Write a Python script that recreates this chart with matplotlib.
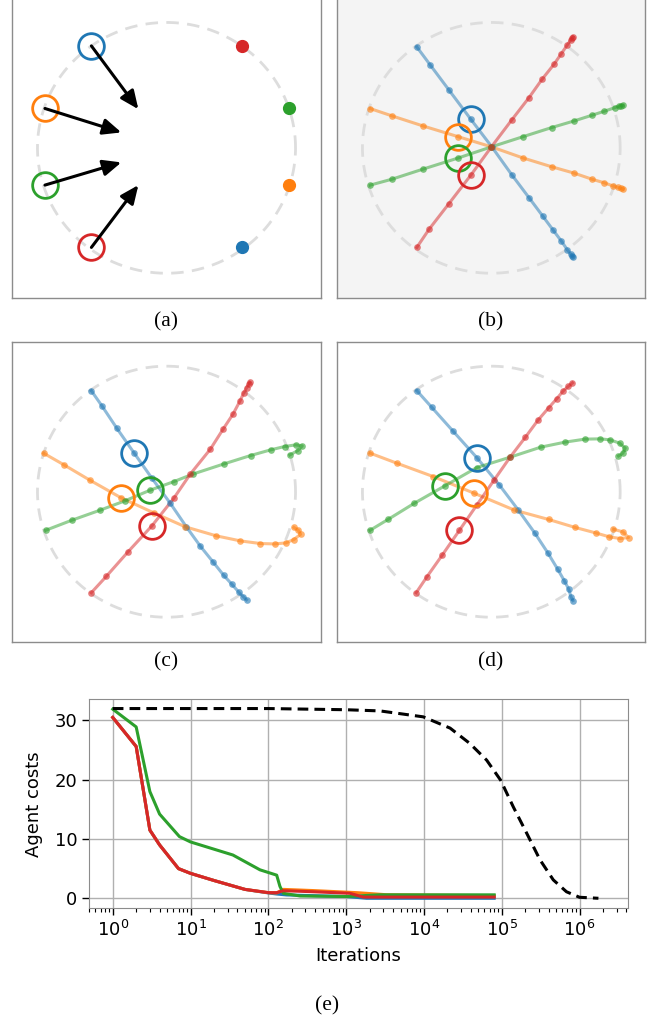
import numpy as np
import matplotlib.pyplot as plt
from matplotlib.ticker import NullFormatter, LogLocator

colors = ['#1f77b4', '#ff7f0e', '#2ca02c', '#d62728']

# (a) start positions, goals and arrow tips (blue, orange, green, red)
a_start_x = [-0.582, -0.942, -0.942, -0.582]
a_start_y = [0.813, 0.314, -0.297, -0.794]
a_goal_x = [0.588, 0.950, 0.950, 0.588]
a_goal_y = [-0.794, -0.297, 0.314, 0.813]
a_tip_x = [-0.218, -0.350, -0.350, -0.218]
a_tip_y = [0.308, 0.123, -0.116, -0.297]

# (b) trajectories
b_x = [
    [-0.578, -0.474, -0.327, -0.159, 0.004, 0.159, 0.293, 0.399, 0.482, 0.544, 0.590, 0.616, 0.626, 0.634],
    [-0.939, -0.771, -0.531, -0.260, 0.001, 0.244, 0.469, 0.644, 0.781, 0.877, 0.942, 0.985, 1.005, 1.024],
    [-0.939, -0.771, -0.531, -0.260, 0.001, 0.249, 0.469, 0.644, 0.781, 0.877, 0.960, 0.990, 1.008, 1.024],
    [-0.578, -0.482, -0.332, -0.159, 0.001, 0.159, 0.293, 0.394, 0.487, 0.544, 0.590, 0.616, 0.626, 0.634],
]
b_y = [
    [0.805, 0.661, 0.459, 0.228, 0.008, -0.215, -0.398, -0.544, -0.659, -0.744, -0.813, -0.847, -0.860, -0.869],
    [0.313, 0.255, 0.175, 0.090, 0.008, -0.080, -0.151, -0.202, -0.250, -0.279, -0.303, -0.316, -0.322, -0.329],
    [-0.297, -0.250, -0.170, -0.082, 0.008, 0.090, 0.162, 0.215, 0.260, 0.292, 0.321, 0.333, 0.337, 0.340],
    [-0.794, -0.648, -0.449, -0.218, 0.008, 0.223, 0.401, 0.547, 0.667, 0.752, 0.821, 0.860, 0.873, 0.884],
]
b_agent_x = [-0.159, -0.260, -0.260, -0.159]
b_agent_y = [0.228, 0.090, -0.082, -0.218]

# (c) trajectories
c_x = [
    [-0.583, -0.498, -0.384, -0.250, -0.113, 0.030, 0.154, 0.263, 0.361, 0.444, 0.508, 0.560, 0.594, 0.620],
    [-0.953, -0.798, -0.596, -0.353, -0.100, 0.146, 0.387, 0.573, 0.728, 0.837, 0.925, 0.987, 1.039, 1.021, 0.987],
    [-0.935, -0.733, -0.514, -0.320, -0.125, 0.056, 0.206, 0.444, 0.651, 0.806, 0.915, 1.000, 1.052, 1.018, 0.956],
    [-0.583, -0.467, -0.299, -0.113, 0.056, 0.185, 0.340, 0.439, 0.516, 0.568, 0.599, 0.620, 0.638, 0.646],
]
c_y = [
    [0.805, 0.680, 0.504, 0.307, 0.107, -0.093, -0.280, -0.435, -0.560, -0.667, -0.739, -0.800, -0.835, -0.861],
    [0.307, 0.216, 0.093, -0.048, -0.168, -0.280, -0.352, -0.392, -0.413, -0.416, -0.408, -0.381, -0.339, -0.307, -0.285],
    [-0.307, -0.227, -0.147, -0.072, 0.013, 0.080, 0.141, 0.221, 0.288, 0.333, 0.360, 0.373, 0.365, 0.328, 0.293],
    [-0.805, -0.675, -0.480, -0.272, -0.053, 0.141, 0.339, 0.499, 0.619, 0.720, 0.787, 0.827, 0.859, 0.872],
]
c_agent_x = [-0.250, -0.353, -0.125, -0.113]
c_agent_y = [0.307, -0.048, 0.013, -0.272]

# (d) trajectories
d_x = [
    [-0.578, -0.462, -0.299, -0.113, 0.063, 0.210, 0.340, 0.439, 0.516, 0.568, 0.602, 0.617, 0.633],
    [-0.940, -0.733, -0.449, -0.131, 0.180, 0.444, 0.651, 0.809, 0.917, 1.000, 1.065, 1.021, 0.948],
    [-0.940, -0.798, -0.599, -0.358, -0.113, 0.146, 0.384, 0.573, 0.728, 0.845, 0.922, 0.995, 1.039, 1.021, 0.987],
    [-0.583, -0.501, -0.382, -0.247, -0.113, 0.022, 0.146, 0.263, 0.361, 0.444, 0.508, 0.560, 0.599, 0.630],
]
d_y = [
    [0.805, 0.672, 0.485, 0.272, 0.053, -0.147, -0.333, -0.488, -0.619, -0.712, -0.779, -0.835, -0.867],
    [0.307, 0.227, 0.120, -0.013, -0.147, -0.221, -0.285, -0.328, -0.360, -0.373, -0.365, -0.320, -0.299],
    [-0.307, -0.219, -0.093, 0.048, 0.192, 0.275, 0.355, 0.395, 0.419, 0.421, 0.413, 0.387, 0.347, 0.307, 0.285],
    [-0.805, -0.680, -0.507, -0.307, -0.107, 0.093, 0.275, 0.432, 0.568, 0.667, 0.741, 0.805, 0.840, 0.867],
]
d_agent_x = [-0.113, -0.131, -0.358, -0.247]
d_agent_y = [0.272, -0.013, 0.048, -0.307]

# (e) agent costs over iterations
iters_blue = [1, 2, 3, 4, 7, 10, 20, 50, 100, 128, 172, 1000, 1830, 80000]
cost_blue = [30.5, 25.6, 11.5, 9.0, 5.0, 4.2, 3.0, 1.5, 0.9, 0.72, 0.56, 0.3, 0.0, 0.0]
iters_orange = [1, 2, 3, 4, 7, 10, 20, 50, 100, 128, 156, 380, 1370, 3300, 80000]
cost_orange = [30.5, 25.6, 11.5, 9.0, 5.0, 4.2, 3.0, 1.5, 0.95, 0.9, 1.5, 1.3, 0.95, 0.6, 0.45]
iters_green = [1, 2, 3, 4, 7.2, 10, 35, 78, 128, 141, 156, 255, 1000, 2700, 80000]
cost_green = [31.9, 28.9, 18.0, 14.2, 10.4, 9.5, 7.3, 4.8, 3.9, 2.0, 0.84, 0.39, 0.3, 0.58, 0.58]
iters_red = [1, 2, 3, 4, 7, 10, 20, 50, 100, 128, 156, 380, 1120, 1660, 80000]
cost_red = [30.5, 25.6, 11.5, 9.0, 5.0, 4.2, 3.0, 1.5, 0.95, 0.95, 1.28, 1.1, 0.84, 0.2, 0.2]
iters_ref = [1, 10, 100, 1000, 2730, 9800, 21700, 39000, 64000, 97000, 141000, 209000,
             310000, 460000, 680000, 1000000, 1750000]
cost_ref = [32.0, 32.0, 32.0, 31.8, 31.6, 30.6, 28.7, 26.1, 23.3, 19.9, 15.4, 11.0,
            6.5, 3.1, 1.1, 0.17, 0.0]
decade_ticks = [1, 10, 100, 1000, 10000, 100000, 1000000]

plt.rcParams['font.size'] = 13

W, H = 657, 1021
fig = plt.figure(figsize=(W / 100, H / 100), dpi=100)


def px_axes(left, top, right, bottom):
    return fig.add_axes([left / W, 1 - bottom / H, (right - left) / W, (bottom - top) / H])


def setup_panel(ax, face='white'):
    ax.set_facecolor(face)
    ax.set_xlim(-1.195, 1.195)
    ax.set_ylim(-1.195, 1.195)
    ax.set_xticks([])
    ax.set_yticks([])
    for s in ax.spines.values():
        s.set_color('#8c8c8c')
        s.set_linewidth(1.0)
    th = np.linspace(0, 2 * np.pi, 300)
    ax.plot(np.cos(th), np.sin(th), color='#dddddd', lw=2.0, ls=(0, (4.5, 3)), zorder=1)


def draw_traj(ax, xs, ys, ax_x, ax_y):
    for i in range(4):
        ax.plot(xs[i], ys[i], color=colors[i], lw=2.2, alpha=0.5, zorder=2)
        ax.plot(xs[i], ys[i], 'o', color=colors[i], ms=4.8, alpha=0.6, mec='none', zorder=3)
    for i in range(4):
        ax.plot(ax_x[i], ax_y[i], 'o', ms=18.5, mfc='none', mec=colors[i], mew=2.0, zorder=4)


# (a)
ax_a = px_axes(12.3, -2, 320.7, 297.7)
setup_panel(ax_a)
for i in range(4):
    ax_a.plot(a_goal_x[i], a_goal_y[i], 'o', color=colors[i], ms=8.5, zorder=3)
    ax_a.plot(a_start_x[i], a_start_y[i], 'o', ms=18.5, mfc='none', mec=colors[i], mew=2.0, zorder=4)
    ax_a.annotate('', xy=(a_tip_x[i], a_tip_y[i]), xytext=(a_start_x[i], a_start_y[i]),
                  arrowprops=dict(arrowstyle='-|>,head_length=0.5,head_width=0.22',
                                  color='black', lw=2.2, mutation_scale=22,
                                  shrinkA=0, shrinkB=0), zorder=5)

# (b)
ax_b = px_axes(337.3, -2, 645.3, 297.7)
setup_panel(ax_b, '#f4f4f4')
draw_traj(ax_b, b_x, b_y, b_agent_x, b_agent_y)

# (c)
ax_c = px_axes(12.3, 341.7, 320.7, 641.7)
setup_panel(ax_c)
draw_traj(ax_c, c_x, c_y, c_agent_x, c_agent_y)

# (d)
ax_d = px_axes(337.3, 341.7, 645.3, 641.7)
setup_panel(ax_d)
draw_traj(ax_d, d_x, d_y, d_agent_x, d_agent_y)

# (e)
ax_e = px_axes(89, 699.3, 628, 908.3)
ax_e.plot(iters_blue, cost_blue, color=colors[0], lw=2.2)
ax_e.plot(iters_orange, cost_orange, color=colors[1], lw=2.2)
ax_e.plot(iters_green, cost_green, color=colors[2], lw=2.2)
ax_e.plot(iters_red, cost_red, color=colors[3], lw=2.2)
ax_e.plot(iters_ref, cost_ref, color='black', lw=2.2, ls=(0, (3.5, 2)))
ax_e.set_xscale('log')
ax_e.set_xlim(0.495, 4.2e6)
ax_e.set_ylim(-1.69, 33.56)
ax_e.set_xticks(decade_ticks)
ax_e.xaxis.set_minor_locator(LogLocator(base=10, subs=np.arange(2, 10), numticks=20))
ax_e.xaxis.set_minor_formatter(NullFormatter())
ax_e.set_yticks([0, 10, 20, 30])
ax_e.grid(True, color='#b0b0b0', lw=1.0)
ax_e.set_xlabel('Iterations', labelpad=5)
ax_e.set_ylabel('Agent costs', labelpad=8)
ax_e.tick_params(length=5, width=1.0, labelsize=13)
ax_e.tick_params(which='minor', length=3, width=0.8)
for s in ax_e.spines.values():
    s.set_color('#8c8c8c')

cap = dict(ha='center', va='center', fontsize=15.5, family='Liberation Serif')
fig.text(165.7 / W, 1 - 321.7 / H, '(a)', **cap)
fig.text(491 / W, 1 - 321.7 / H, '(b)', **cap)
fig.text(165.7 / W, 1 - 662 / H, '(c)', **cap)
fig.text(491 / W, 1 - 662 / H, '(d)', **cap)
fig.text(326.7 / W, 1 - 1006 / H, '(e)', **cap)

fig.savefig('out.png', dpi=100)
